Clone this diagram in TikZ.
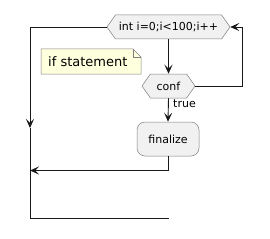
\documentclass[tikz,border=0pt]{standalone}
\usepackage{fontspec}
\setmainfont{DejaVu Sans}
\usepackage{tikz}
\usetikzlibrary{positioning,calc,arrows.meta,shapes.symbols}
\definecolor{actfill}{HTML}{F1F1F1}
\definecolor{actline}{HTML}{7F7F7F}
\definecolor{notefill}{HTML}{FEFFDD}
\definecolor{ink}{HTML}{181818}
\tikzset{
  hexbox/.style   = {signal, signal to=west and east, signal pointer angle=110, draw=actline, fill=actfill,
                     line width=0.5pt, minimum height=24pt, inner sep=0pt, font=\fontsize{11}{13}\selectfont},
  actbox/.style   = {draw=actline, fill=actfill, rounded corners=8pt, line width=0.5pt, minimum height=34pt,
                     inner sep=0pt, font=\fontsize{11}{13}\selectfont},
  line/.style     = {draw=ink, line width=0.9pt},
  flow/.style     = {line, -{Stealth[length=9pt,width=8pt,inset=4pt]}},
  lbl/.style      = {font=\fontsize{11}{13}\selectfont, anchor=west, inner sep=0pt},
  notetext/.style = {font=\fontsize{13}{15}\selectfont, anchor=west, inner sep=0pt},
}
\begin{document}
\begin{tikzpicture}[x=1pt,y=-1pt]
  \useasboundingbox (0,0) rectangle (270,238);

  % nodes
  \node[hexbox, minimum width=123pt] (loop) at (168.5,27) {int i=0;i<100;i++};
  \node[hexbox, minimum width=53pt] (conf) at (168.5,86) {conf};
  \node[actbox, minimum width=62pt] (fin) at (168,139) {finalize};

  % note with folded corner
  \draw[draw=actline, fill=notefill, line width=0.5pt]
    (41,49) -- (133,49) -- (141,57) -- (141,74) -- (41,74) -- cycle;
  \draw[draw=actline, line width=0.5pt] (133,49) -- (133,57) -- (141,57);
  \node[notetext] (notetxt) at (48,61.5) {if statement};

  % connectors
  \coordinate (leftarr) at (30,128);
  \coordinate (leftbot) at (30,218);
  \coordinate (botend) at (169,218);
  \coordinate (rightup) at (242,27);
  \coordinate (merge) at (30,170.5);

  \draw[flow] (loop.south) -- (conf.north);
  \draw[flow] (conf.south) -- (fin.north);
  \node[lbl] (truelbl) at (173,104) {true};
  \draw[flow] (conf.east) -| (rightup) -- (loop.east);
  \draw[flow] (loop.west) -| (leftarr);
  \draw[line] (leftarr) -- (leftbot) -- (botend);
  \draw[flow] (fin.south) |- (merge);
\end{tikzpicture}
\end{document}
